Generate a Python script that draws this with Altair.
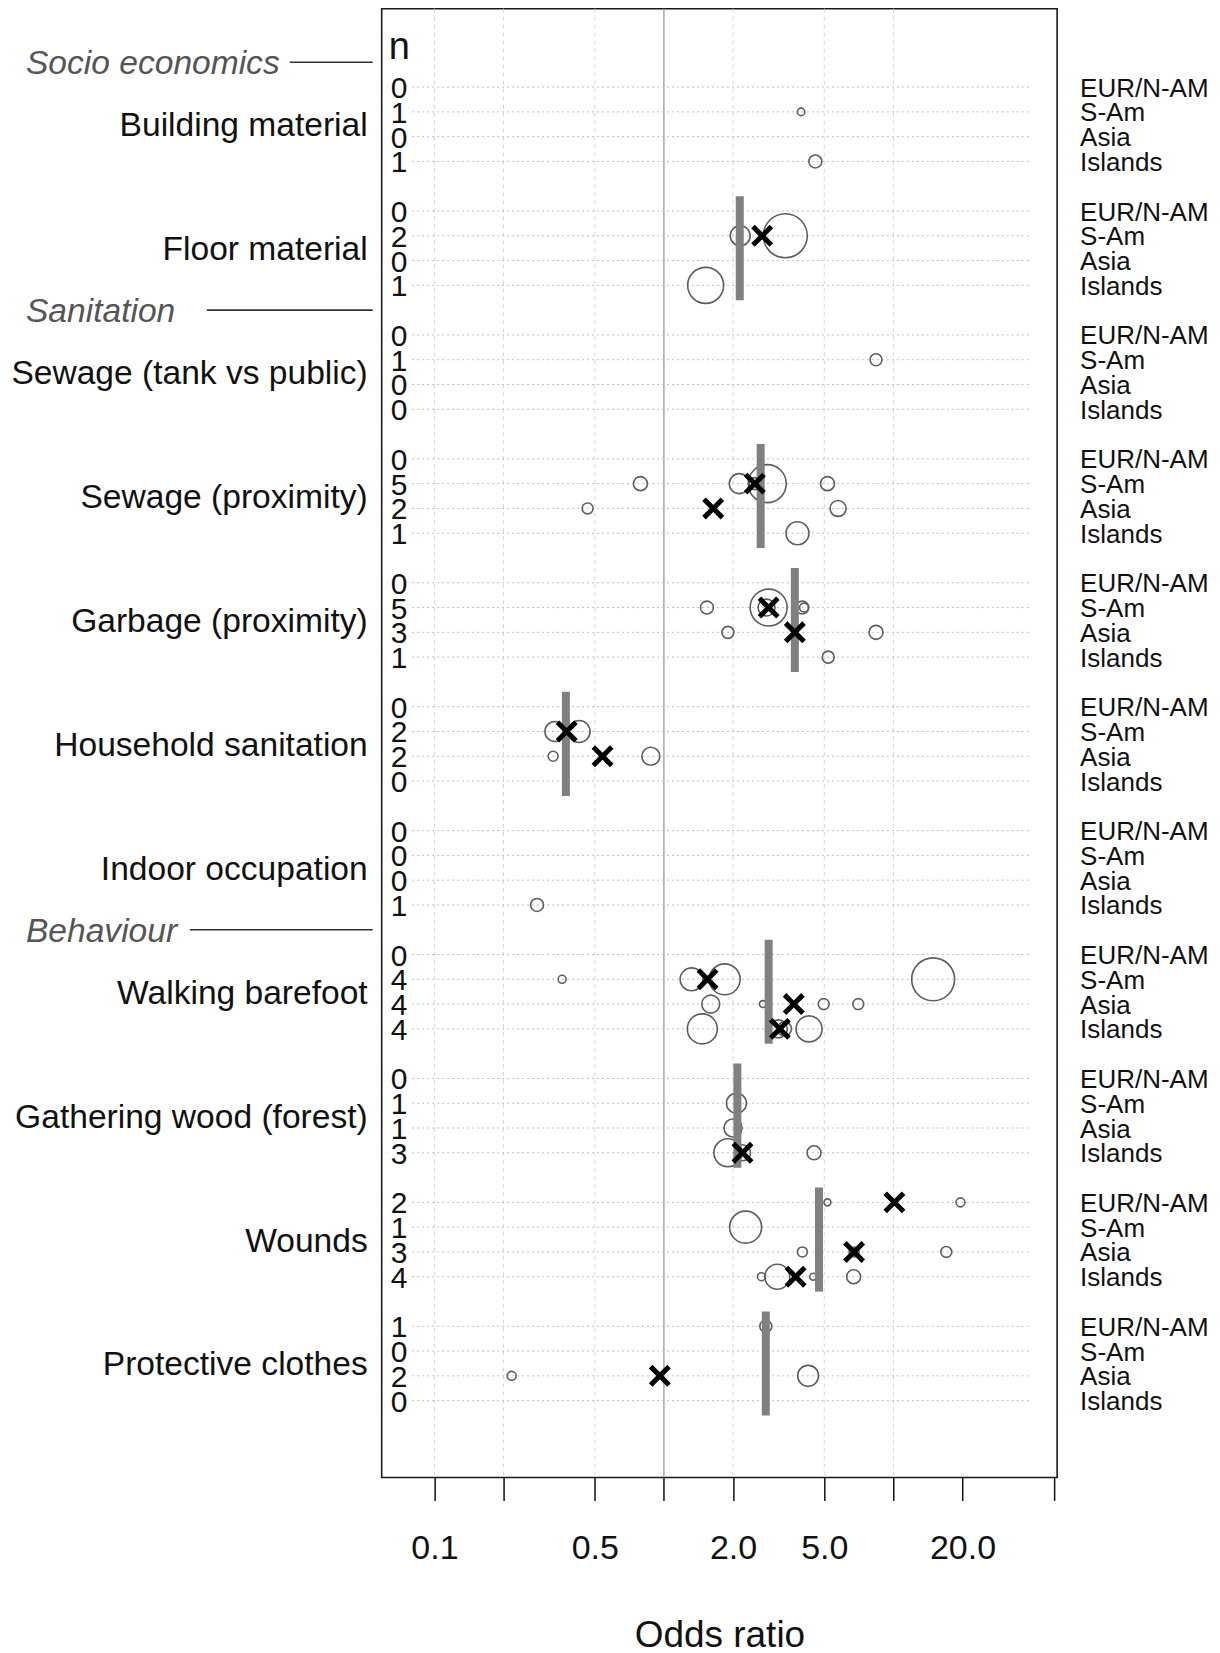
import altair as alt
import pandas as pd

FONT = "Liberation Sans"

# ---------------- data ----------------
categories = ["Building material", "Floor material", "Sewage (tank vs public)",
              "Sewage (proximity)", "Garbage (proximity)", "Household sanitation",
              "Indoor occupation", "Walking barefoot", "Gathering wood (forest)",
              "Wounds", "Protective clothes"]
regions = ["EUR/N-AM", "S-Am", "Asia", "Islands"]
n_studies = [[0, 1, 0, 1], [0, 2, 0, 1], [0, 1, 0, 0], [0, 5, 2, 1], [0, 5, 3, 1],
             [0, 2, 2, 0], [0, 0, 0, 1], [0, 4, 4, 4], [0, 1, 1, 3], [2, 1, 3, 4],
             [1, 0, 2, 0]]

sections = ["Socio economics", "Sanitation", "Behaviour"]
section_first_category = ["Building material", "Sewage (tank vs public)", "Walking barefoot"]

# individual study estimates (circles)
study_category = (["Building material"] * 2 + ["Floor material"] * 3 + ["Sewage (tank vs public)"]
                  + ["Sewage (proximity)"] * 8 + ["Garbage (proximity)"] * 9
                  + ["Household sanitation"] * 4 + ["Indoor occupation"]
                  + ["Walking barefoot"] * 12 + ["Gathering wood (forest)"] * 5
                  + ["Wounds"] * 10 + ["Protective clothes"] * 3)
study_region = (["S-Am", "Islands"]
                + ["S-Am", "S-Am", "Islands"]
                + ["S-Am"]
                + ["S-Am"] * 5 + ["Asia"] * 2 + ["Islands"]
                + ["S-Am"] * 5 + ["Asia"] * 3 + ["Islands"]
                + ["S-Am"] * 2 + ["Asia"] * 2
                + ["Islands"]
                + ["S-Am"] * 4 + ["Asia"] * 4 + ["Islands"] * 4
                + ["S-Am", "Asia"] + ["Islands"] * 3
                + ["EUR/N-AM"] * 2 + ["S-Am"] + ["Asia"] * 3 + ["Islands"] * 4
                + ["EUR/N-AM"] + ["Asia"] * 2)
study_or = [3.96, 4.57,
            2.15, 3.38, 1.52,
            8.4,
            0.79, 2.13, 2.49, 2.82, 5.16, 0.465, 5.74, 3.82,
            1.54, 2.86, 2.80, 4.01, 4.08, 1.90, 3.72, 8.4, 5.2,
            0.335, 0.427, 0.329, 0.877,
            0.28,
            0.36, 1.32, 1.84, 14.9, 1.60, 2.70, 4.97, 7.03, 1.47, 3.15, 3.35, 4.29,
            2.07, 2.00, 1.90, 2.20, 4.51,
            5.16, 19.6, 2.27, 4.01, 6.74, 17.0, 2.66, 3.12, 4.47, 6.71,
            2.78, 0.217, 4.25]
study_weight = [14, 42,
                100, 484, 324,
                36,
                49, 100, 36, 361, 49, 30, 64, 132,
                42, 342, 72, 42, 20, 36, 9, 49, 36,
                100, 121, 25, 81,
                42,
                16, 132, 240, 462, 81, 12, 30, 30, 225, 81, 49, 169,
                100, 81, 196, 64, 49,
                12, 20, 256, 25, 25, 30, 16, 156, 12, 49,
                36, 20, 110]

# pooled estimate per region (crosses)
pooled_category = ["Floor material", "Sewage (proximity)", "Sewage (proximity)",
                   "Garbage (proximity)", "Garbage (proximity)",
                   "Household sanitation", "Household sanitation",
                   "Walking barefoot", "Walking barefoot", "Walking barefoot",
                   "Gathering wood (forest)", "Wounds", "Wounds", "Wounds",
                   "Protective clothes"]
pooled_region = ["S-Am", "S-Am", "Asia", "S-Am", "Asia", "S-Am", "Asia",
                 "S-Am", "Asia", "Islands", "Islands", "EUR/N-AM", "Asia", "Islands", "Asia"]
pooled_or = [2.68, 2.49, 1.64, 2.86, 3.72, 0.377, 0.54, 1.55, 3.68, 3.2, 2.20,
             10.1, 6.74, 3.75, 0.96]

# overall pooled estimate per risk factor (grey bars)
overall_category = ["Floor material", "Sewage (proximity)", "Garbage (proximity)",
                    "Household sanitation", "Walking barefoot", "Gathering wood (forest)",
                    "Wounds", "Protective clothes"]
overall_or = [2.14, 2.64, 3.72, 0.374, 2.86, 2.09, 4.74, 2.78]

# axis
tick_values = [0.1, 0.2, 0.5, 1, 2, 5, 10, 20, 50]
tick_labels = ["0.1", "", "0.5", "", "2.0", "5.0", "", "20.0", ""]
grid_values = [0.1, 0.2, 0.5, 2, 5, 10]
row_grid_range = [0.08, 40]

# ---------------- layout ----------------
W, H = 676, 1470
X_DOMAIN = [0.0589, 51.7]
Y_DOMAIN = [-3.164, 56.10]
STEP = 5  # rows per risk-factor block (4 regions + gap)
section_line_start = {"Socio economics": -92, "Sanitation": -175, "Behaviour": -192}

xs = alt.Scale(type="log", domain=X_DOMAIN, nice=False)
ys = alt.Scale(domain=Y_DOMAIN, reverse=True, nice=False, zero=False)


def row_pos(cat, reg):
    return categories.index(cat) * STEP + regions.index(reg)


rows = pd.DataFrame([
    {"pos": row_pos(c, r), "n": str(n_studies[i][j]), "region": r,
     "x0": row_grid_range[0], "x1": row_grid_range[1]}
    for i, c in enumerate(categories) for j, r in enumerate(regions)
])
studies = pd.DataFrame({
    "or": study_or, "w": study_weight,
    "pos": [row_pos(c, r) for c, r in zip(study_category, study_region)],
})
pooled = pd.DataFrame({
    "or": pooled_or,
    "pos": [row_pos(c, r) for c, r in zip(pooled_category, pooled_region)],
})
overall = pd.DataFrame({
    "or": overall_or,
    "top": [categories.index(c) * STEP - 0.6 for c in overall_category],
    "bot": [categories.index(c) * STEP + 3.6 for c in overall_category],
})
cats = pd.DataFrame({"cat": categories,
                     "pos": [i * STEP + 1.5 for i in range(len(categories))]})
secs = pd.DataFrame({
    "sec": sections,
    "pos": [categories.index(c) * STEP - 1 for c in section_first_category],
    "lx": [section_line_start[s] for s in sections],
})
gridv = pd.DataFrame({"x": grid_values})
ticks = pd.DataFrame({"x": tick_values})

label_expr = " : ".join(
    f"datum.value == {v} ? '{l}'" for v, l in zip(tick_values, tick_labels)
) + " : ''"

x_axis = alt.Axis(values=tick_values, labelExpr=label_expr, tickSize=23, tickWidth=1.5,
                  tickColor="#111", domain=False, grid=False, labelFontSize=34,
                  labelFont=FONT, labelColor="#111", labelPadding=31, labelFlush=False,
                  labelOverlap=False, title="Odds ratio", titleFont=FONT, titleFontSize=37,
                  titleFontWeight="normal", titleColor="#111", titleBaseline="top",
                  titleY=140)

axis_layer = alt.Chart(ticks).mark_rule(opacity=0).encode(
    x=alt.X("x:Q", scale=xs, axis=x_axis), y=alt.value(0), y2=alt.value(H))

vgrid = alt.Chart(gridv).mark_rule(color="#d6d6d6", strokeDash=[4, 4], strokeWidth=1).encode(
    x=alt.X("x:Q", scale=xs), y=alt.value(0), y2=alt.value(H))

ref_line = alt.Chart(pd.DataFrame({"x": [1]})).mark_rule(color="#9a9a9a", strokeWidth=1.3).encode(
    x=alt.X("x:Q", scale=xs), y=alt.value(0), y2=alt.value(H))

hgrid = alt.Chart(rows).mark_rule(color="#bdbdbd", strokeDash=[2, 3], strokeWidth=1).encode(
    x=alt.X("x0:Q", scale=xs), x2="x1:Q",
    y=alt.Y("pos:Q", scale=ys, axis=None))

# weight is the squared radius; vega's circle size is the area of its bounding square
circles = alt.Chart(studies).mark_point(shape="circle", filled=False, stroke="#5e5e5e",
                                       strokeWidth=1.6, opacity=1).encode(
    x=alt.X("or:Q", scale=xs),
    y=alt.Y("pos:Q", scale=ys, axis=None),
    size=alt.Size("w:Q", scale=alt.Scale(type="linear", domain=[0, 500],
                                          range=[0, 2000]), legend=None))

bars = alt.Chart(overall).mark_rule(color="#808080", strokeWidth=8).encode(
    x=alt.X("or:Q", scale=xs),
    y=alt.Y("top:Q", scale=ys, axis=None), y2="bot:Q")

crosses = alt.Chart(pooled).mark_point(shape="M-1,-1L1,1M-1,1L1,-1", filled=False,
                                      stroke="#000000", strokeWidth=5, size=340,
                                      opacity=1).encode(
    x=alt.X("or:Q", scale=xs),
    y=alt.Y("pos:Q", scale=ys, axis=None))

n_text = alt.Chart(rows).mark_text(font=FONT, fontSize=30, align="center",
                                   baseline="middle", dy=2, color="#111").encode(
    x=alt.value(17.5), y=alt.Y("pos:Q", scale=ys, axis=None), text="n:N")

n_head = alt.Chart(pd.DataFrame({"t": ["n"], "pos": [-1.12]})).mark_text(
    font=FONT, fontSize=38, align="center", baseline="alphabetic", color="#111").encode(
    x=alt.value(17.5), y=alt.Y("pos:Q", scale=ys, axis=None), text="t:N")

reg_text = alt.Chart(rows).mark_text(font=FONT, fontSize=26, align="left",
                                     baseline="middle", dy=1.5, color="#111").encode(
    x=alt.value(699), y=alt.Y("pos:Q", scale=ys, axis=None), text="region:N")

cat_text = alt.Chart(cats).mark_text(font=FONT, fontSize=33.6, align="right",
                                     baseline="middle", dy=2, color="#111").encode(
    x=alt.value(-14), y=alt.Y("pos:Q", scale=ys, axis=None), text="cat:N")

sec_text = alt.Chart(secs).mark_text(font=FONT, fontSize=33.6, fontStyle="italic",
                                     align="left", baseline="middle", dy=2,
                                     color="#555555").encode(
    x=alt.value(-356), y=alt.Y("pos:Q", scale=ys, axis=None), text="sec:N")

sec_line = alt.Chart(secs).mark_rule(color="#333333", strokeWidth=1.6).encode(
    x=alt.X("lx:Q", scale=None), x2=alt.value(-9),
    y=alt.Y("pos:Q", scale=ys, axis=None))

chart = alt.layer(
    axis_layer, vgrid, ref_line, hgrid, circles, bars, crosses,
    n_text, n_head, reg_text, cat_text, sec_text, sec_line
).properties(
    width=W, height=H,
    autosize=alt.AutoSizeParams(type="none"),
    padding={"left": 374, "top": 0, "right": 155, "bottom": 176},
    background="white",
).configure_view(stroke="#1a1a1a", strokeWidth=1.6)

chart.save("out.html", embed_options={"renderer": "svg", "actions": False})
